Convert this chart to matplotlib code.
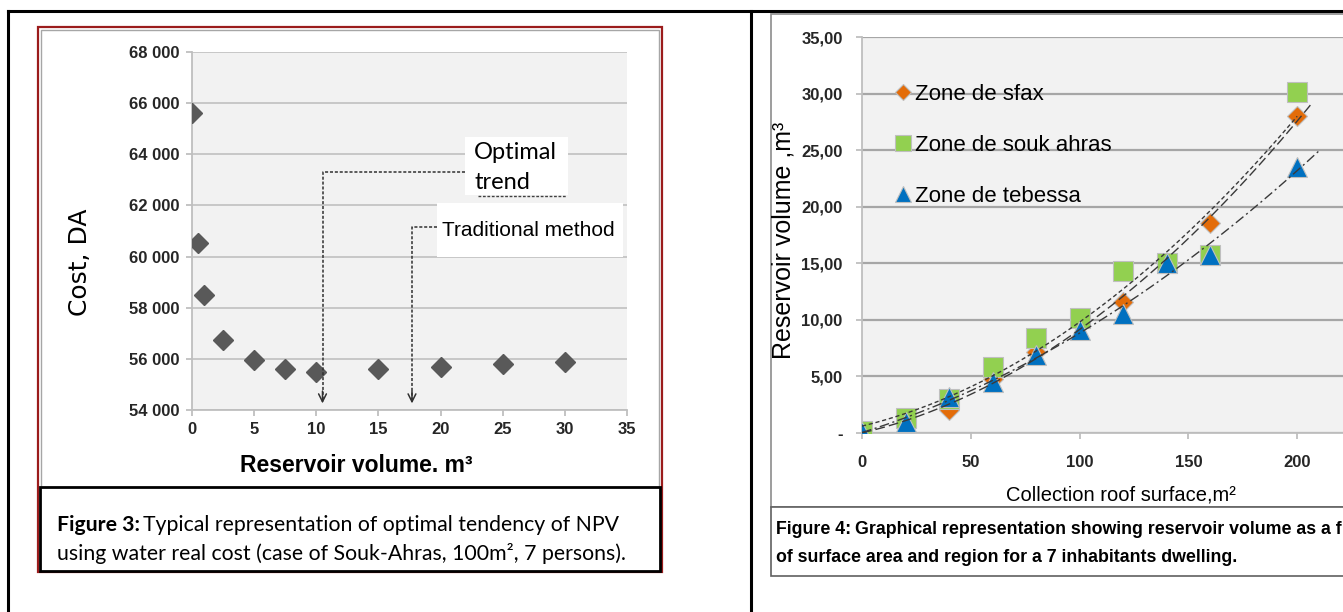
import numpy as np
import matplotlib.pyplot as plt
from matplotlib.patches import Rectangle
from matplotlib.lines import Line2D
from matplotlib.text import Annotation

# Figure 3 : NPV cost against reservoir volume (Souk-Ahras, 100 m2, 7 persons)
vol = [0, 0.5, 1, 2.5, 5, 7.5, 10, 15, 20, 25, 30]
cost = [65600, 60550, 58500, 56750, 55950, 55600, 55500, 55600, 55700, 55780, 55880]
cost_ticks = [54000, 56000, 58000, 60000, 62000, 64000, 66000, 68000]
vol_ticks = [0, 5, 10, 15, 20, 25, 30, 35]
optimal_x = 10.5
traditional_x = 17.7

# Figure 4 : reservoir volume against roof surface, per region
surface = [0, 20, 40, 60, 80, 100, 120, 140, 160, 200]
sfax = [0.0, 1.0, 2.0, 4.8, 7.2, 9.7, 11.6, 15.0, 18.6, 28.0]
souk_ahras = [0.2, 1.3, 3.0, 5.8, 8.4, 10.2, 14.3, 15.0, 15.7, 30.1]
tebessa = [0.1, 1.0, 3.2, 4.5, 6.9, 9.1, 10.5, 15.0, 15.7, 23.5]
zone_names = ['Zone de sfax', 'Zone de souk ahras', 'Zone de tebessa']
trend_end = [207, 200, 210]
vol_ticks4 = [0, 5, 10, 15, 20, 25, 30, 35]
surf_ticks = [0, 50, 100, 150, 200]

NARROW = ['Liberation Sans Narrow', 'Liberation Sans', 'DejaVu Sans']
ARIAL = ['Liberation Sans', 'DejaVu Sans']
CALIBRI = ['Lato', 'DejaVu Sans']

W, H = 1343, 612


def fx(px):
    return px / W


def fy(py):
    return 1 - py / H


def box(x0, y0, x1, y1, ec, lw=1.0, fc='white'):
    r = Rectangle((fx(x0), fy(y1)), fx(x1) - fx(x0), fy(y0) - fy(y1),
                  transform=fig.transFigure, ec=ec, fc=fc, lw=lw, zorder=-5)
    fig.add_artist(r)


def fline(xs, ys, **kw):
    fig.add_artist(Line2D([fx(x) for x in xs], [fy(y) for y in ys],
                          transform=fig.transFigure, **kw))


def caption(x, y, bold, rest, size, fam, rest_weight='normal'):
    t = fig.text(fx(x), fy(y), bold, fontsize=size, family=fam,
                 weight='bold', va='center', ha='left')
    a = Annotation(rest, xy=(1, 0.5), xycoords=t, xytext=(2.5, 0),
                   textcoords='offset points', va='center', ha='left',
                   fontsize=size, family=fam, weight=rest_weight)
    fig.add_artist(a)


def style_ticks(ax, size):
    for lbl in ax.get_xticklabels() + ax.get_yticklabels():
        lbl.set_family(NARROW)
        lbl.set_weight('bold')
        lbl.set_fontsize(size)
        lbl.set_color('#262626')


fig = plt.figure(figsize=(W / 100, H / 100), dpi=100)

# page frame
fline([8, 8], [11, H], color='black', lw=2.2)
fline([8, W], [11, 11], color='black', lw=2.2)
fline([751, 751], [11, H], color='black', lw=2.2)

# ---------------- left panel ----------------
box(38, 27, 662, 572, '#9b1c1c', lw=1.6)
box(41, 30, 659, 569, '#a6a6a6', lw=1.0)
box(40, 487, 660, 571, 'black', lw=2.0)

ax1 = fig.add_axes([fx(192), fy(410), fx(627) - fx(192), fy(52) - fy(410)])
ax1.set_facecolor('#f2f2f2')
ax1.set_xlim(0, 35)
ax1.set_ylim(54000, 68000)
ax1.set_xticks(vol_ticks, labels=[str(v) for v in vol_ticks])
ax1.set_yticks(cost_ticks, labels=['{:,}'.format(v).replace(',', ' ') for v in cost_ticks])
ax1.grid(axis='y', color='#c4c4c4', lw=1.3)
ax1.set_axisbelow(True)
for s in ['top', 'right']:
    ax1.spines[s].set_visible(False)
for s in ['left', 'bottom']:
    ax1.spines[s].set_color('#bfbfbf')
    ax1.spines[s].set_linewidth(1.3)
ax1.tick_params(direction='out', length=4, color='#bfbfbf', width=1.3, pad=5)
style_ticks(ax1, 12)

ax1.plot(vol, cost, 'D', color='#595959', ms=10, zorder=3)

fig.text(fx(80), fy(262), 'Cost, DA', rotation=90, ha='center', va='center',
         fontsize=18, family='DejaVu Sans')
fig.text(fx(356), fy(466), 'Reservoir volume. m³', ha='center', va='center',
         fontsize=16.5, family=NARROW, weight='bold')

# annotation boxes and elbow arrows
arrow_tip = 54150
opt_level = 63307
trad_level = 61156
ax1.add_patch(Rectangle((21.97, 62408), 8.28, 2268, fc='white', ec='none',
                        zorder=4, clip_on=False))
ax1.text(22.7, 64089, 'Optimal', fontsize=17, family=CALIBRI, va='center',
         zorder=5)
ax1.text(22.7, 62916, 'trend', fontsize=17, family=CALIBRI, va='center',
         zorder=5)
ax1.plot([23.0, 30.1], [62369, 62369], ls=(0, (2, 1.2)), color='#404040',
         lw=1, zorder=5, clip_on=False)
ax1.add_patch(Rectangle((19.71, 59983), 14.97, 2112, fc='white', ec='none',
                        zorder=4, clip_on=False))
ax1.text(20.1, 61039, 'Traditional method', fontsize=15, family=NARROW,
         va='center', zorder=5)

for x_arr, level, x_start in [(optimal_x, opt_level, 21.97),
                              (traditional_x, trad_level, 19.71)]:
    ax1.plot([x_start, x_arr, x_arr], [level, level, arrow_tip + 250],
             ls=(0, (2, 1.2)), color='#303030', lw=1.1, zorder=5)
    ax1.annotate('', xy=(x_arr, arrow_tip), xytext=(x_arr, arrow_tip + 700),
                 arrowprops=dict(arrowstyle='->', color='#303030', lw=1.1,
                                 mutation_scale=14), zorder=5)

caption(57, 525, 'Figure 3:',
        'Typical representation of optimal tendency of NPV',
        15.3, CALIBRI)
fig.text(fx(57), fy(553),
         'using water real cost (case of Souk-Ahras, 100m², 7 persons).',
         fontsize=15.3, family=CALIBRI, va='center', ha='left')

# ---------------- right panel ----------------
box(771, 14, 1420, 507, '#8c8c8c', lw=1.2)
box(771, 507, 1420, 576, '#606060', lw=1.2)

ax2 = fig.add_axes([fx(862), fy(433), fx(1406) - fx(862), fy(37) - fy(433)])
ax2.set_facecolor('#f2f2f2')
ax2.set_xlim(0, 250)
ax2.set_ylim(0, 35)
ax2.set_xticks(surf_ticks, labels=[str(v) for v in surf_ticks])
ax2.set_yticks(vol_ticks4, labels=['-' if v == 0 else '{:.2f}'.format(v).replace('.', ',')
                                   for v in vol_ticks4])
ax2.grid(axis='y', color='#a6a6a6', lw=1.6)
ax2.set_axisbelow(True)
for s in ['top', 'right']:
    ax2.spines[s].set_visible(False)
for s in ['left', 'bottom']:
    ax2.spines[s].set_color('#bfbfbf')
    ax2.spines[s].set_linewidth(1.3)
ax2.tick_params(direction='out', length=4, color='#bfbfbf', width=1.3)
ax2.tick_params(axis='y', pad=10)
ax2.tick_params(axis='x', pad=12)
style_ticks(ax2, 12)

series = [sfax, souk_ahras, tebessa]
markers = ['D', 's', '^']
colors = ['#E36C09', '#92D050', '#0070C0']
sizes = [10, 14, 14]
dashes = [(0, (7, 3)), (0, (3, 2)), (0, (7, 2.5, 1.5, 2.5))]
handles = []
for vals, m, c, ms, name in zip(series, markers, colors, sizes, zone_names):
    h, = ax2.plot(surface, vals, m, color=c, ms=ms, mec='#bfbfbf', mew=0.8,
                  label=name, zorder=3)
    handles.append(h)
for vals, end, ls in zip(series, trend_end, dashes):
    coef = np.polyfit(surface, vals, 2)
    xs = np.linspace(0, end, 200)
    ax2.plot(xs, np.polyval(coef, xs), ls=ls, color='#3a3a3a', lw=1.0,
             zorder=4)

ax2.legend(handles=handles, loc='upper left', bbox_to_anchor=(0.04, 0.91),
           frameon=False, prop={'family': ARIAL, 'size': 16},
           labelspacing=1.35, handlelength=0.7, handletextpad=0.2,
           borderpad=0, markerscale=0.8)

fig.text(fx(784), fy(240), 'Reservoir volume ,m³', rotation=90, ha='center',
         va='center', fontsize=18, family=ARIAL)
fig.text(fx(1121), fy(495), 'Collection roof surface,m²', ha='center',
         va='center', fontsize=14.5, family=ARIAL)

caption(776, 530, 'Figure 4:',
        'Graphical representation showing reservoir volume as a f',
        12.8, NARROW, rest_weight='bold')
fig.text(fx(776), fy(557),
         'of surface area and region for a 7 inhabitants dwelling.',
         fontsize=12.8, family=NARROW, weight='bold', va='center', ha='left')

fig.savefig('out.png', dpi=100)
